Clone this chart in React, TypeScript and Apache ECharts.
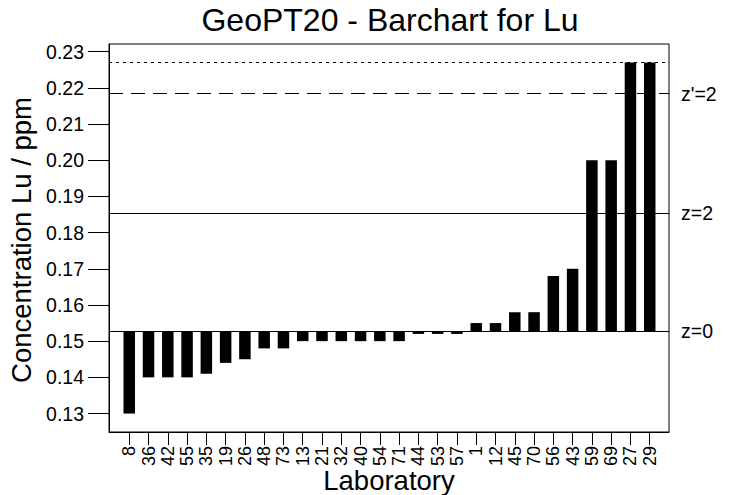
import React, { useEffect, useRef } from "react";
import * as echarts from "echarts";

const labs = ["8", "36", "42", "55", "35", "19", "26", "48", "73", "13", "21", "32", "40", "54", "71", "44", "53", "57", "1", "12", "45", "70", "56", "43", "59", "69", "27", "29"];
const values = [0.130, 0.140, 0.140, 0.140, 0.141, 0.144, 0.145, 0.148, 0.148, 0.150, 0.150, 0.150, 0.150, 0.150, 0.150, 0.152, 0.152, 0.152, 0.155, 0.155, 0.158, 0.158, 0.168, 0.170, 0.200, 0.200, 0.227, 0.227];
const yTicks = [0.13, 0.14, 0.15, 0.16, 0.17, 0.18, 0.19, 0.20, 0.21, 0.22, 0.23];
const refValue = 0.1528; // z=0 (assigned value)
const zLines = [
  { name: "z=0", value: 0.1528, type: "solid" },
  { name: "z=2", value: 0.1854, type: "solid" },
  { name: "z'=2", value: 0.2184, type: "dashed" },
  { name: "", value: 0.2271, type: "dotted" },
];

const FONT = "'Liberation Sans', Arial, sans-serif";

export default function App() {
  const ref = useRef<HTMLDivElement>(null);
  useEffect(() => {
    if (!ref.current) return;
    const chart = echarts.init(ref.current, undefined, { renderer: "svg" });
    const idx = labs.map((_, i) => i);
    chart.setOption({
      animation: false,
      textStyle: { fontFamily: FONT },
      grid: { left: 109, right: 64, top: 44, bottom: 63, show: true, borderColor: "#000", borderWidth: 1, backgroundColor: "transparent" },
      xAxis: {
        type: "value",
        position: "bottom",
        min: -1.05,
        max: 28,
        axisLine: { show: true, onZero: false, lineStyle: { color: "#000", width: 1 } },
        splitLine: { show: false },
        axisTick: { show: true, inside: false, length: 13, customValues: idx, lineStyle: { color: "#000", width: 1 } },
        axisLabel: {
          show: true,
          customValues: idx,
          rotate: 90,
          margin: 14,
          fontSize: 18,
          color: "#000",
          fontFamily: FONT,
          formatter: (v: number) => labs[Math.round(v)] ?? "",
        },
      },
      yAxis: {
        type: "value",
        position: "left",
        min: 0.1249,
        max: 0.2321,
        axisLine: { show: true, onZero: false, lineStyle: { color: "#000", width: 1 } },
        splitLine: { show: false },
        axisTick: { show: true, inside: false, length: 21, customValues: yTicks, lineStyle: { color: "#000", width: 1 } },
        axisLabel: {
          show: true,
          customValues: yTicks,
          margin: 25,
          fontSize: 19.5,
          color: "#000",
          fontFamily: FONT,
          formatter: (v: number) => v.toFixed(2),
        },
      },
      graphic: [
        { type: "text", x: 390, y: 20, style: { text: "GeoPT20 - Barchart for Lu", fontSize: 32, fontFamily: FONT, fill: "#000", align: "center", verticalAlign: "middle" } },
        { type: "text", x: 21, y: 240, rotation: Math.PI / 2, style: { text: "Concentration Lu / ppm", fontSize: 27.5, fontFamily: FONT, fill: "#000", align: "center", verticalAlign: "middle" } },
        { type: "text", x: 389, y: 480, style: { text: "Laboratory", fontSize: 27.5, fontFamily: FONT, fill: "#000", align: "center", verticalAlign: "middle" } },
      ],
      series: [
        {
          type: "custom",
          data: values.map((v, i) => [i, v]),
          renderItem: (params: any, api: any) => {
            const i = api.value(0);
            const v = api.value(1);
            const p1 = api.coord([i, v]);
            const p0 = api.coord([i, refValue]);
            const w = 11.5;
            return {
              type: "rect",
              shape: { x: p1[0] - w / 2, y: Math.min(p0[1], p1[1]), width: w, height: Math.abs(p1[1] - p0[1]) },
              style: { fill: "#000" },
            };
          },
          z: 2,
        },
        {
          type: "line",
          data: [],
          z: 3,
          markLine: {
            silent: true,
            symbol: "none",
            precision: 4,
            animation: false,
            data: zLines.map((l) => ({
              yAxis: l.value,
              lineStyle: { color: "#000", width: 1, type: l.type === "dashed" ? [14, 8] : l.type === "dotted" ? [3, 4] : "solid" },
              label: { show: l.name !== "", formatter: l.name, position: "end", distance: 12, fontSize: 19.5, color: "#000", fontFamily: FONT },
            })),
          },
        },
      ],
    });
    return () => chart.dispose();
  }, []);
  return <div ref={ref} style={{ width: 733, height: 495, position: "absolute", left: 0, top: 0 }} />;
}
